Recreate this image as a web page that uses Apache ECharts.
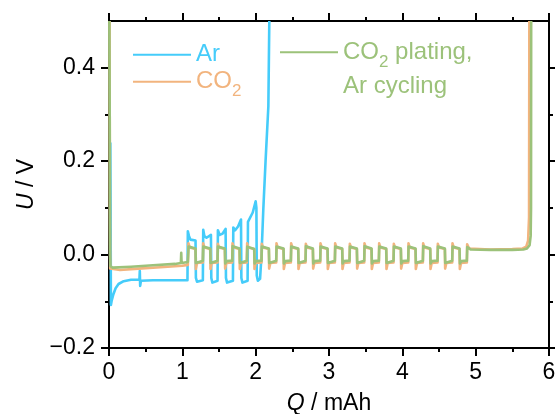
<!DOCTYPE html>
<html><head><meta charset="utf-8">
<script src="https://cdn.jsdelivr.net/npm/echarts@6/dist/echarts.min.js"></script>
<style>html,body{margin:0;padding:0;background:#fff}#c{width:555px;height:414px}</style>
</head><body><div id="c"></div>
<script>
const seriesNames = ['Ar', 'CO2', 'CO2 plating, Ar cycling'];
const xTicks = [0, 1, 2, 3, 4, 5, 6];
const yTicks = [-0.2, 0, 0.2, 0.4];
const yMinorTicks = [-0.1, 0.1, 0.3];

// [Q / mAh, U / V]
const arData = [
  [0.018,0.24],[0.022,0.1],[0.026,-0.108],[0.035,-0.1],[0.06,-0.085],[0.09,-0.072],[0.13,-0.063],
  [0.2,-0.057],[0.3,-0.054],[0.415,-0.054],[0.42,-0.035],[0.425,-0.067],[0.435,-0.056],[0.6,-0.055],
  [0.9,-0.055],[1.07,-0.055],
  [1.075,0.05],[1.09,0.04],[1.11,0.032],[1.18,0.03],[1.185,-0.05],[1.2,-0.058],[1.28,-0.055],
  [1.285,0.053],[1.3,0.04],[1.33,0.036],[1.39,0.042],[1.395,-0.05],[1.41,-0.06],[1.48,-0.056],
  [1.485,0.052],[1.51,0.042],[1.55,0.045],[1.59,0.055],[1.595,-0.05],[1.61,-0.06],[1.69,-0.056],
  [1.695,0.058],[1.72,0.052],[1.76,0.06],[1.8,0.075],[1.805,-0.05],[1.82,-0.06],[1.89,-0.056],
  [1.895,0.07],[1.92,0.068],[1.96,0.09],[2.0,0.114],[2.01,0.1],[2.015,-0.045],[2.03,-0.056],[2.06,-0.052],
  [2.08,0.0],[2.104,0.096],[2.135,0.2],[2.173,0.317],[2.186,0.5]
];

const co2Data = [
  [0.008,0.5],[0.012,0.1],[0.016,-0.03],[0.03,-0.034],[0.15,-0.033],[0.4,-0.03],[0.7,-0.027],[1.0,-0.024],[1.075,-0.022],
  [1.08,-0.02],[1.084,0.024],[1.1,0.015],[1.18,0.012],[1.184,-0.031],[1.2,-0.018],
  [1.28,-0.017],[1.284,0.024],[1.3,0.015],[1.38,0.012],[1.384,-0.031],[1.4,-0.018],
  [1.48,-0.017],[1.484,0.023],[1.5,0.015],[1.58,0.012],[1.584,-0.03],[1.6,-0.018],
  [1.68,-0.017],[1.684,0.024],[1.7,0.015],[1.78,0.012],[1.784,-0.031],[1.8,-0.018],
  [1.88,-0.017],[1.884,0.024],[1.9,0.015],[1.98,0.012],[1.984,-0.031],[2.0,-0.018],
  [2.08,-0.017],[2.084,0.023],[2.1,0.015],[2.18,0.012],[2.184,-0.03],[2.2,-0.018],
  [2.28,-0.017],[2.284,0.024],[2.3,0.015],[2.38,0.012],[2.384,-0.031],[2.4,-0.018],
  [2.48,-0.017],[2.484,0.024],[2.5,0.015],[2.58,0.012],[2.584,-0.031],[2.6,-0.018],
  [2.68,-0.017],[2.684,0.023],[2.7,0.015],[2.78,0.012],[2.784,-0.03],[2.8,-0.018],
  [2.88,-0.017],[2.884,0.024],[2.9,0.015],[2.98,0.012],[2.984,-0.031],[3.0,-0.018],
  [3.08,-0.017],[3.084,0.024],[3.1,0.015],[3.18,0.012],[3.184,-0.031],[3.2,-0.018],
  [3.28,-0.017],[3.284,0.023],[3.3,0.015],[3.38,0.012],[3.384,-0.03],[3.4,-0.018],
  [3.48,-0.017],[3.484,0.024],[3.5,0.015],[3.58,0.012],[3.584,-0.031],[3.6,-0.018],
  [3.68,-0.017],[3.684,0.024],[3.7,0.015],[3.78,0.012],[3.784,-0.031],[3.8,-0.018],
  [3.88,-0.017],[3.884,0.023],[3.9,0.015],[3.98,0.012],[3.984,-0.03],[4.0,-0.018],
  [4.08,-0.017],[4.084,0.024],[4.1,0.015],[4.18,0.012],[4.184,-0.031],[4.2,-0.018],
  [4.28,-0.017],[4.284,0.024],[4.3,0.015],[4.38,0.012],[4.384,-0.031],[4.4,-0.018],
  [4.48,-0.017],[4.484,0.023],[4.5,0.015],[4.58,0.012],[4.584,-0.03],[4.6,-0.018],
  [4.68,-0.017],[4.684,0.024],[4.7,0.015],[4.78,0.012],[4.784,-0.031],[4.8,-0.018],
  [4.88,-0.017],[4.884,0.022],[4.91,0.013],[5.2,0.011],[5.5,0.012],[5.64,0.013],[5.69,0.017],
  [5.715,0.03],[5.728,0.08],[5.732,0.5]
];

const mixData = [
  [0.005,0.5],[0.01,0.3],[0.015,0.0],[0.02,-0.025],[0.05,-0.028],[0.3,-0.026],[0.6,-0.023],[0.9,-0.02],
  [0.98,-0.018],[0.985,0.004],[0.99,-0.018],[1.075,-0.016],
  [1.08,-0.016],[1.085,0.017],[1.18,0.013],[1.185,-0.018],[1.205,-0.014],
  [1.28,-0.013],[1.285,0.017],[1.38,0.013],[1.385,-0.018],[1.405,-0.014],
  [1.48,-0.013],[1.485,0.017],[1.58,0.013],[1.585,-0.019],[1.605,-0.014],
  [1.68,-0.013],[1.685,0.018],[1.78,0.013],[1.785,-0.018],[1.805,-0.014],
  [1.88,-0.013],[1.885,0.017],[1.98,0.012],[1.985,-0.019],[2.005,-0.014],
  [2.08,-0.013],[2.085,0.017],[2.18,0.013],[2.185,-0.018],[2.205,-0.014],
  [2.28,-0.013],[2.285,0.017],[2.38,0.013],[2.385,-0.019],[2.405,-0.014],
  [2.48,-0.013],[2.485,0.017],[2.58,0.013],[2.585,-0.018],[2.605,-0.014],
  [2.68,-0.013],[2.685,0.018],[2.78,0.013],[2.785,-0.019],[2.805,-0.014],
  [2.88,-0.013],[2.885,0.017],[2.98,0.013],[2.985,-0.018],[3.005,-0.014],
  [3.08,-0.013],[3.085,0.017],[3.18,0.013],[3.185,-0.019],[3.205,-0.014],
  [3.28,-0.013],[3.285,0.017],[3.38,0.013],[3.385,-0.018],[3.405,-0.014],
  [3.48,-0.013],[3.485,0.018],[3.58,0.013],[3.585,-0.019],[3.605,-0.014],
  [3.68,-0.013],[3.685,0.017],[3.78,0.013],[3.785,-0.018],[3.805,-0.014],
  [3.88,-0.013],[3.885,0.017],[3.98,0.013],[3.985,-0.019],[4.005,-0.014],
  [4.08,-0.013],[4.085,0.017],[4.18,0.013],[4.185,-0.018],[4.205,-0.014],
  [4.28,-0.013],[4.285,0.018],[4.38,0.013],[4.385,-0.019],[4.405,-0.014],
  [4.48,-0.013],[4.485,0.017],[4.58,0.013],[4.585,-0.018],[4.605,-0.014],
  [4.68,-0.013],[4.685,0.017],[4.78,0.013],[4.785,-0.019],[4.805,-0.014],
  [4.88,-0.013],[4.885,0.016],[4.93,0.011],[5.2,0.01],[5.5,0.01],[5.65,0.011],[5.7,0.013],
  [5.735,0.02],[5.75,0.04],[5.755,0.1],[5.757,0.5]
];

const COL_AR = '#45CCFA', COL_CO2 = '#F2B47E', COL_MIX = '#9CC27A';
const F = "'Liberation Sans', Arial, Helvetica, sans-serif";
const rich = {
  n: {fontFamily: F, fontSize: 24, lineHeight: 30},
  s: {fontFamily: F, fontSize: 17, padding: [20, 0, 0, 0]},
  m: {fontFamily: F, fontSize: 24, lineHeight: 31}
};
const legendText = {
  'Ar': '{n|Ar}',
  'CO2': '{n|CO}{s|2}',
  'CO2 plating, Ar cycling': '{n|CO}{s|2}{n| plating,}\n{m|Ar cycling}'
};
function mkLegend(name, color, left, top, icon, h) {
  return {
    data: [name], left: left, top: top, padding: 0, orient: 'vertical',
    itemWidth: 58, itemHeight: h, icon: icon, itemStyle: {borderWidth: 0},
    selectedMode: false,
    formatter: n => legendText[n],
    textStyle: {color: color, fontFamily: F, fontSize: 24, rich: rich}
  };
}
const axisLineStyle = {color: '#000', width: 2};
const fmtY = v => (v < 0 ? '\u2212' : '') + Math.abs(v).toFixed(1);

const chart = echarts.init(document.getElementById('c'), null, {renderer: 'canvas'});
chart.setOption({
  animation: false,
  backgroundColor: '#fff',
  grid: {left: 109, right: 6, top: 21, bottom: 66, containLabel: false, outerBoundsMode: 'none'},
  legend: [
    mkLegend(seriesNames[0], COL_AR, 133, 42.7, 'rect', 2),
    mkLegend(seriesNames[1], COL_CO2, 133, 69.7, 'rect', 2),
    mkLegend(seriesNames[2], COL_MIX, 280, 40.2, 'path://M0,0H58V2H0Z M0,32.9H0.1V33H0Z', 33)
  ],
  xAxis: [
    {
      type: 'value', position: 'bottom', min: xTicks[0], max: xTicks[xTicks.length - 1], interval: 1,
      axisLine: {show: true, onZero: false, lineStyle: axisLineStyle},
      axisTick: {show: true, length: 8, lineStyle: {color: '#000', width: 2}},
      minorTick: {show: true, splitNumber: 2, length: 4, lineStyle: {color: '#000', width: 2}},
      axisLabel: {show: true, margin: 13, color: '#000', fontFamily: F, fontSize: 23},
      splitLine: {show: false}, minorSplitLine: {show: false},
      name: '{i|Q} / mAh', nameLocation: 'middle', nameGap: 44,
      nameTextStyle: {color: '#000', fontFamily: F, fontSize: 23,
        rich: {i: {fontFamily: F, fontSize: 23, fontStyle: 'italic', color: '#000'}}}
    },
    {
      type: 'value', position: 'top', min: xTicks[0], max: xTicks[xTicks.length - 1], interval: 1,
      axisLine: {show: true, onZero: false, lineStyle: axisLineStyle},
      axisTick: {show: true, length: 8, lineStyle: {color: '#000', width: 2}},
      minorTick: {show: true, splitNumber: 2, length: 4, lineStyle: {color: '#000', width: 2}},
      axisLabel: {show: false}, splitLine: {show: false}
    }
  ],
  yAxis: [
    {
      type: 'value', position: 'left', min: -0.2, max: 0.5, interval: 0.1,
      axisLine: {show: true, onZero: false, lineStyle: axisLineStyle},
      axisTick: {show: true, length: 8, customValues: yTicks, lineStyle: {color: '#000', width: 2}},
      axisLabel: {show: true, customValues: yTicks, margin: 14, color: '#000', fontFamily: F, fontSize: 23, formatter: fmtY},
      splitLine: {show: false},
      name: '{i|U} / V', nameLocation: 'middle', nameGap: 71, nameRotate: 90,
      nameTextStyle: {color: '#000', fontFamily: F, fontSize: 23,
        rich: {i: {fontFamily: F, fontSize: 23, fontStyle: 'italic', color: '#000'}}}
    },
    {
      type: 'value', position: 'right', min: -0.2, max: 0.5, interval: 0.1,
      axisLine: {show: true, onZero: false, lineStyle: axisLineStyle},
      axisTick: {show: true, length: 8, customValues: yTicks, lineStyle: {color: '#000', width: 2}},
      axisLabel: {show: false}, splitLine: {show: false}
    },
    {
      type: 'value', position: 'left', min: -0.2, max: 0.5, interval: 0.1,
      axisLine: {show: false, onZero: false},
      axisTick: {show: true, length: 4, customValues: yMinorTicks, lineStyle: {color: '#000', width: 2}},
      axisLabel: {show: false}, splitLine: {show: false}
    },
    {
      type: 'value', position: 'right', min: -0.2, max: 0.5, interval: 0.1,
      axisLine: {show: false, onZero: false},
      axisTick: {show: true, length: 4, customValues: yMinorTicks, lineStyle: {color: '#000', width: 2}},
      axisLabel: {show: false}, splitLine: {show: false}
    }
  ],
  series: [
    {name: seriesNames[0], type: 'line', data: arData, xAxisIndex: 0, yAxisIndex: 0, symbol: 'none', showSymbol: false,
     color: COL_AR, lineStyle: {color: COL_AR, width: 2.6, join: 'round'}, clip: true},
    {name: seriesNames[1], type: 'line', data: co2Data, xAxisIndex: 0, yAxisIndex: 0, symbol: 'none', showSymbol: false,
     color: COL_CO2, lineStyle: {color: COL_CO2, width: 2.6, join: 'round'}, clip: true},
    {name: seriesNames[2], type: 'line', data: mixData, xAxisIndex: 0, yAxisIndex: 0, symbol: 'none', showSymbol: false,
     color: COL_MIX, lineStyle: {color: COL_MIX, width: 2.6, join: 'round'}, clip: true}
  ]
});
</script></body></html>
